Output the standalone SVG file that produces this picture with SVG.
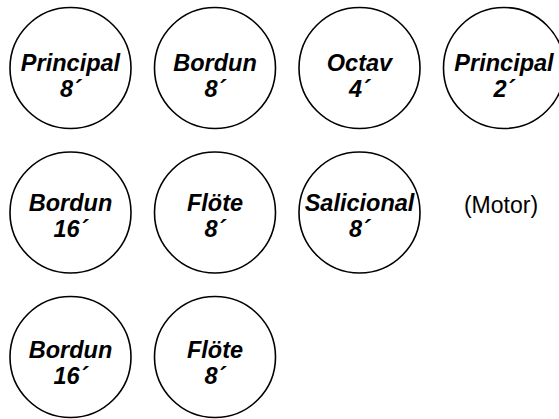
<svg xmlns="http://www.w3.org/2000/svg" width="559" height="419" viewBox="0 0 559 419">
<style>
.n circle{fill:#fff;stroke:#000;stroke-width:1.6}
.n text{font-family:"Liberation Sans",Arial,sans-serif;font-size:23.5px;font-weight:bold;font-style:italic;text-anchor:middle;fill:#000}
.lbl{font-family:"Liberation Sans",Arial,sans-serif;font-size:23px;text-anchor:middle;fill:#000}
</style>
<rect width="559" height="419" fill="#fff"/>
<g id="connectors"></g>
<g id="n1" class="n"><circle cx="70.5" cy="68" r="60.5"/><text x="70.5" y="71">Principal</text><text x="70.5" y="97">8´</text></g>
<g id="n2" class="n"><circle cx="215" cy="68" r="60.5"/><text x="215" y="71">Bordun</text><text x="215" y="97">8´</text></g>
<g id="n3" class="n"><circle cx="359.5" cy="68" r="60.5"/><text x="359.5" y="71">Octav</text><text x="359.5" y="97">4´</text></g>
<g id="n4" class="n"><circle cx="504" cy="68" r="60.5"/><text x="504" y="71">Principal</text><text x="504" y="97">2´</text></g>
<g id="n5" class="n"><circle cx="70.5" cy="212.5" r="60.5"/><text x="70.5" y="211">Bordun</text><text x="70.5" y="237">16´</text></g>
<g id="n6" class="n"><circle cx="215" cy="212.5" r="60.5"/><text x="215" y="211">Flöte</text><text x="215" y="237">8´</text></g>
<g id="n7" class="n"><circle cx="359.5" cy="212.5" r="60.5"/><text x="359.5" y="211">Salicional</text><text x="359.5" y="237">8´</text></g>
<g id="n8"><text class="lbl" x="501" y="213">(Motor)</text></g>
<g id="n9" class="n"><circle cx="70.5" cy="357" r="60.5"/><text x="70.5" y="358">Bordun</text><text x="70.5" y="384">16´</text></g>
<g id="n10" class="n"><circle cx="215" cy="357" r="60.5"/><text x="215" y="358">Flöte</text><text x="215" y="384">8´</text></g>
</svg>
